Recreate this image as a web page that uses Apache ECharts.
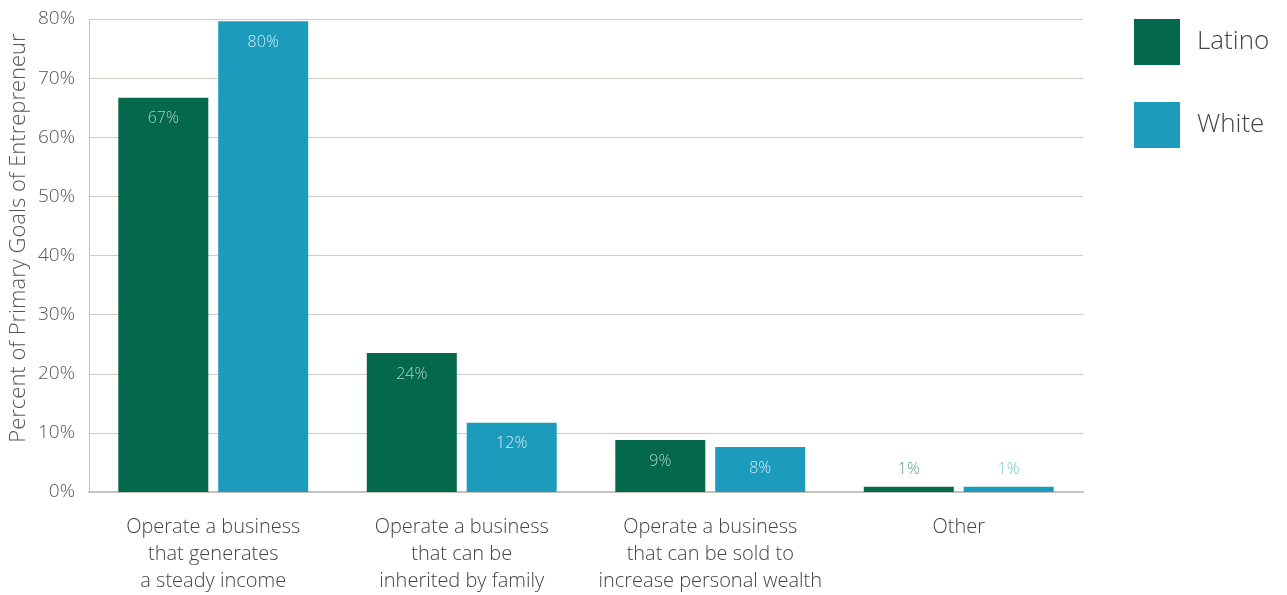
<!DOCTYPE html>
<html>
<head>
<meta charset="utf-8">
<script src="https://cdn.jsdelivr.net/npm/echarts@6/dist/echarts.min.js"></script>
<style>
  html, body { margin: 0; padding: 0; background: #fff; }
  #chart { width: 1287px; height: 595px; }
</style>
</head>
<body>
<div id="chart"></div>
<script>
// Primary goals of entrepreneurs, by group
const categories = [
  'Operate a business\nthat generates\na steady income',
  'Operate a business\nthat can be\ninherited by family',
  'Operate a business\nthat can be sold to\nincrease personal wealth',
  'Other'
];
const latino = [66.7, 23.5, 8.8, 0.9];
const white = [79.6, 11.7, 7.6, 0.9];
const yTicks = [0, 10, 20, 30, 40, 50, 60, 70, 80];

const FONT = '"Open Sans", sans-serif';
const GREEN = '#04684c';
const BLUE = '#1c9bbd';

// small bars carry their label above, tinted like the bar
function pointData(values, inColor, outColor) {
  return values.map(v => {
    const small = v < 3;
    return {
      value: v,
      label: small
        ? { position: 'top', distance: 9, color: outColor }
        : { position: 'insideTop', distance: 13, color: inColor }
    };
  });
}

const chart = echarts.init(document.getElementById('chart'));
chart.setOption({
  animation: false,
  textStyle: { fontFamily: FONT, fontWeight: 300 },
  grid: { left: 89, right: 204, top: 19, bottom: 101 },
  legend: {
    orient: 'vertical',
    left: 1134,
    top: 19,
    padding: 0,
    itemWidth: 46,
    itemHeight: 46,
    itemGap: 37,
    icon: 'rect',
    textStyle: { fontSize: 26, color: '#444', fontFamily: FONT, fontWeight: 300, padding: [8, 0, 0, 12] }
  },
  xAxis: {
    type: 'category',
    data: categories,
    axisLine: { lineStyle: { color: '#c6c3bd', width: 2 } },
    axisTick: { show: false },
    axisLabel: {
      interval: 0,
      fontSize: 20,
      lineHeight: 27,
      color: '#444',
      margin: 22,
      fontFamily: FONT,
      fontWeight: 300
    }
  },
  yAxis: {
    type: 'value',
    min: 0,
    max: 80,
    interval: 10,
    axisLine: { show: true, lineStyle: { color: '#c6c3bd', width: 1 } },
    axisTick: { show: false },
    splitLine: { lineStyle: { color: '#cfccc6', width: 1 } },
    axisLabel: {
      fontSize: 19,
      color: '#555',
      margin: 14,
      fontFamily: FONT,
      fontWeight: 300,
      formatter: v => (yTicks.indexOf(v) >= 0 ? v + '%' : '')
    }
  },
  graphic: [{
    type: 'text',
    x: 8,
    y: 238,
    rotation: Math.PI / 2,
    style: {
      text: 'Percent of Primary Goals of Entrepreneur',
      fontSize: 22,
      fontFamily: FONT,
      fontWeight: 300,
      fill: '#555',
      align: 'center',
      verticalAlign: 'top'
    }
  }],
  series: [
    {
      name: 'Latino',
      type: 'bar',
      barWidth: 90,
      barGap: '11%',
      itemStyle: { color: GREEN },
      label: {
        show: true,
        fontSize: 16,
        fontFamily: FONT,
        fontWeight: 300,
        formatter: p => Math.round(p.value) + '%'
      },
      data: pointData(latino, '#a9d3c3', '#5e9e86')
    },
    {
      name: 'White',
      type: 'bar',
      barWidth: 90,
      itemStyle: { color: BLUE },
      label: {
        show: true,
        fontSize: 16,
        fontFamily: FONT,
        fontWeight: 300,
        formatter: p => Math.round(p.value) + '%'
      },
      data: pointData(white, '#cdebf3', '#7dc6da')
    }
  ]
});
</script>
</body>
</html>
